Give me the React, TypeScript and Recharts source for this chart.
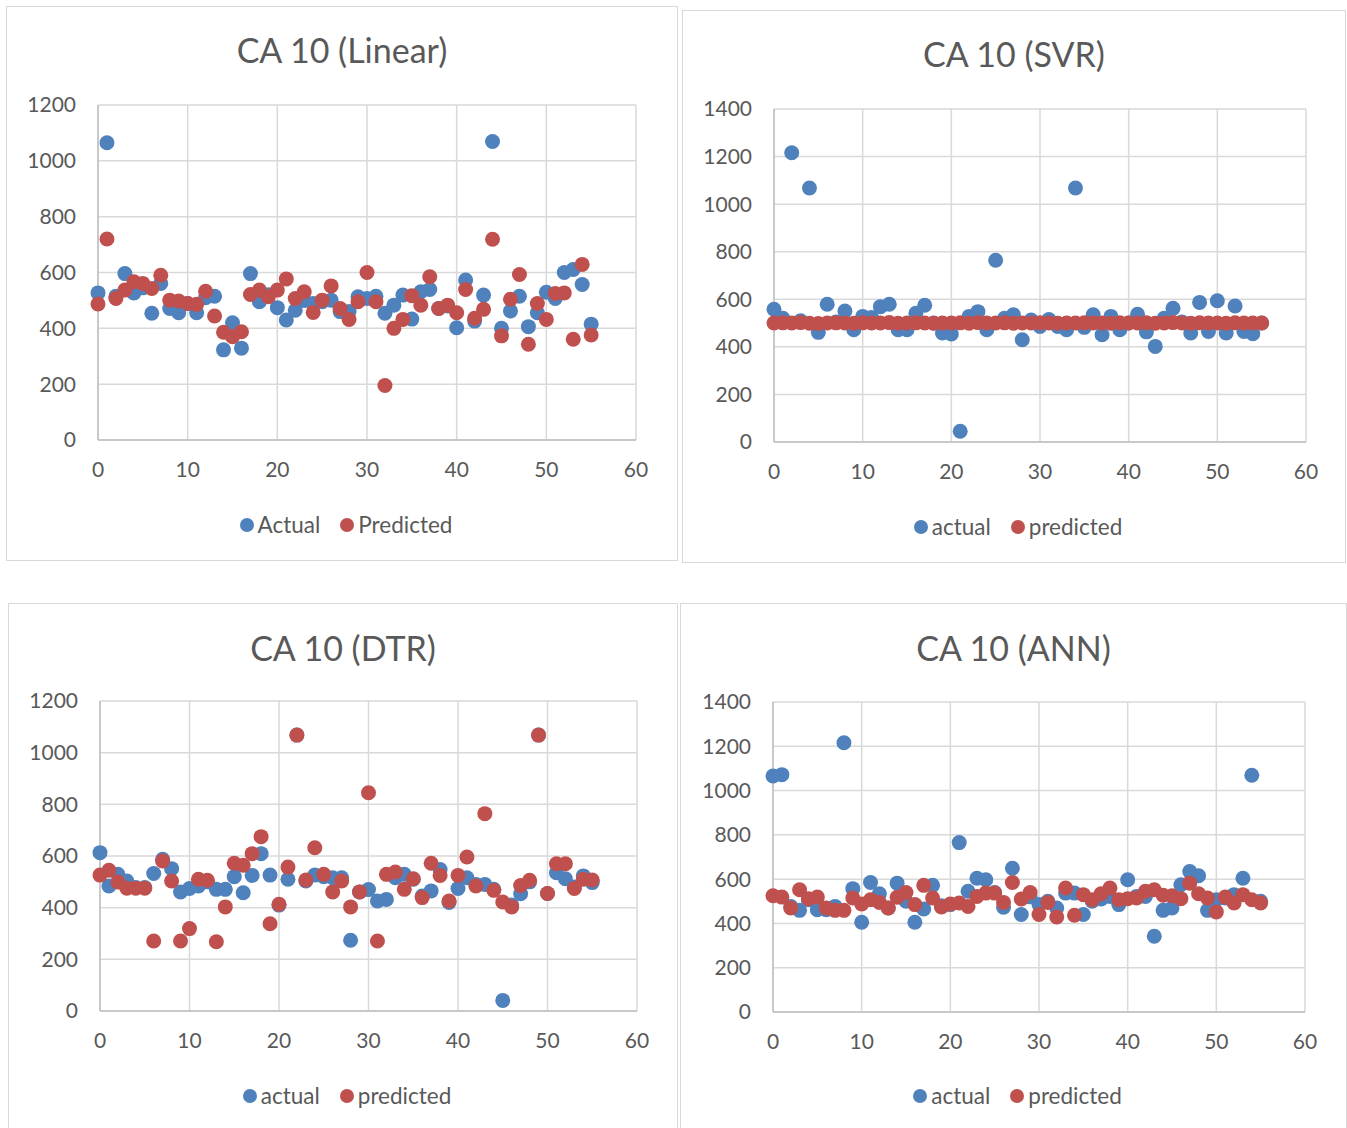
import React from "react";
import {
  ScatterChart,
  Scatter,
  XAxis,
  YAxis,
  CartesianGrid,
  Legend,
} from "recharts";

// Values (x = sample index 0..55)
const linearActual = [
  527, 1065, 515, 596, 527, 545, 454, 561, 471, 456, 489, 456, 510, 515, 323, 420,
  329, 596, 495, 520, 474, 430, 465, 500, 489, 495, 501, 460, 460, 513, 507, 515,
  454, 483, 519, 433, 531, 539, 471, 480, 402, 573, 426, 519, 1069, 400, 462, 515,
  406, 456, 529, 507, 600, 611, 557, 415,
];
const linearPredicted = [
  487, 720, 507, 537, 567, 561, 543, 590, 501, 498, 489, 486, 533, 444, 386, 370,
  388, 521, 537, 513, 537, 577, 507, 531, 457, 501, 552, 471, 432, 495, 600, 495,
  195, 400, 432, 517, 483, 585, 471, 483, 456, 539, 436, 468, 719, 373, 504, 593,
  343, 489, 432, 525, 527, 361, 629, 376,
];

const svrActual = [
  558, 520, 1216, 510, 1068, 461, 579, 505, 551, 472, 528, 523, 569, 579, 472, 472,
  541, 575, 500, 458, 454, 45, 528, 548, 472, 764, 520, 535, 430, 513, 486, 515,
  486, 472, 1068, 482, 535, 451, 528, 472, 500, 537, 463, 402, 520, 562, 505, 458,
  587, 465, 594, 458, 572, 465, 455, 500,
];
const svrPredicted = [
  500, 501, 500, 502, 499, 498, 500, 501, 500, 499, 501, 500, 500, 502, 499, 500,
  501, 500, 499, 500, 500, 501, 499, 502, 500, 500, 501, 499, 500, 500, 501, 500,
  499, 500, 500, 501, 500, 500, 499, 501, 500, 500, 501, 499, 500, 502, 500, 499,
  501, 500, 500, 499, 501, 500, 500, 500,
];

const dtrActual = [
  613, 484, 529, 503, 478, 478, 532, 587, 551, 461, 474, 484, 500, 471, 471, 520,
  458, 525, 609, 526, 410, 510, 1068, 503, 526, 520, 516, 516, 274, 461, 470, 426,
  432, 516, 529, 510, 445, 465, 548, 420, 474, 516, 490, 490, 471, 41, 410, 454,
  500, 1068, 455, 535, 512, 480, 523, 497,
];
const dtrPredicted = [
  526, 545, 499, 475, 475, 475, 271, 581, 503, 271, 319, 510, 506, 268, 403, 572,
  564, 609, 675, 338, 413, 557, 1068, 507, 632, 529, 461, 503, 403, 461, 845, 271,
  529, 538, 471, 512, 439, 572, 525, 426, 525, 596, 484, 764, 467, 422, 403, 486,
  506, 1068, 455, 570, 570, 474, 510, 507,
];

const annActual = [
  1066, 1072, 477, 459, 507, 462, 462, 477, 1216, 557, 405, 585, 534, 470, 582, 500,
  405, 465, 572, 480, 485, 765, 545, 604, 597, 540, 473, 649, 440, 520, 485, 500,
  470, 537, 537, 440, 500, 510, 522, 485, 597, 522, 522, 342, 459, 470, 575, 634,
  615, 459, 507, 515, 530, 604, 1069, 500,
];
const annPredicted = [
  525, 519, 470, 552, 512, 519, 470, 459, 459, 515, 488, 507, 495, 470, 518, 540,
  485, 572, 515, 474, 488, 492, 477, 522, 537, 537, 495, 585, 510, 540, 440, 495,
  429, 560, 437, 530, 507, 534, 560, 507, 512, 515, 545, 552, 527, 525, 512, 582,
  534, 515, 452, 519, 492, 530, 507, 492,
];

const xTicks = [0, 10, 20, 30, 40, 50, 60];
const yTicks1200 = [0, 200, 400, 600, 800, 1000, 1200];
const yTicks1400 = [0, 200, 400, 600, 800, 1000, 1200, 1400];

const BLUE = "#4f81bd";
const RED = "#c0504d";
const TEXT = "#595959";
const FONT = "Lato, 'Open Sans', sans-serif";
const Y_AXIS_W = 70;
const X_AXIS_H = 40;

type Box = { left: number; top: number; width: number; height: number };
type Plot = { left: number; right: number; top: number; bottom: number };

interface PanelProps {
  title: string;
  actual: number[];
  predicted: number[];
  names: [string, string];
  yTicks: number[];
  box: Box;
  plot: Plot;
  titleY: number;
  legendY: number;
}

const toPoints = (values: number[]) => values.map((y, x) => ({ x, y }));

function Panel({ title, actual, predicted, names, yTicks, box, plot, titleY, legendY }: PanelProps) {
  const margin = {
    top: plot.top - box.top,
    right: box.left + box.width - plot.right,
    left: plot.left - box.left - Y_AXIS_W,
    bottom: box.top + box.height - plot.bottom - X_AXIS_H,
  };
  const tickStyle = { fill: TEXT, fontSize: 21, fontFamily: FONT };
  const dot = (color: string) => (p: any) => <circle cx={p.cx} cy={p.cy} r={7.5} fill={color} />;

  return (
    <>
      <div
        style={{
          position: "absolute",
          left: box.left,
          top: box.top,
          width: box.width,
          height: box.height,
        }}
      >
        <ScatterChart width={box.width} height={box.height} margin={margin}>
          <CartesianGrid stroke="#d9d9d9" strokeWidth={1.5} />
          <XAxis
            type="number"
            dataKey="x"
            domain={[0, 60]}
            ticks={xTicks}
            height={X_AXIS_H}
            tickLine={false}
            tickSize={6}
            tickMargin={16}
            axisLine={{ stroke: "#bfbfbf", strokeWidth: 1.5 }}
            tick={tickStyle}
            interval={0}
          />
          <YAxis
            type="number"
            dataKey="y"
            domain={[0, yTicks[yTicks.length - 1]]}
            ticks={yTicks}
            width={Y_AXIS_W}
            tickLine={false}
            tickSize={6}
            tickMargin={16}
            axisLine={{ stroke: "#bfbfbf", strokeWidth: 1.5 }}
            tick={tickStyle}
            interval={0}
          />
          <Legend
            layout="horizontal"
            verticalAlign="middle"
            align="center"
            iconType="circle"
            iconSize={14}
            wrapperStyle={{
              top: legendY - box.top - 14,
              left: 14,
              width: box.width,
              fontSize: 22.5,
              lineHeight: "28px",
            }}
            formatter={(value) => (
              <span
                style={{
                  color: TEXT,
                  fontSize: 22.5,
                  fontFamily: FONT,
                  marginRight: 10,
                  verticalAlign: "middle",
                }}
              >
                {value}
              </span>
            )}
          />
          <Scatter
            name={names[0]}
            data={toPoints(actual)}
            fill={BLUE}
            shape={dot(BLUE)}
            isAnimationActive={false}
          />
          <Scatter
            name={names[1]}
            data={toPoints(predicted)}
            fill={RED}
            shape={dot(RED)}
            isAnimationActive={false}
          />
        </ScatterChart>
      </div>
      <div
        style={{
          position: "absolute",
          left: box.left,
          top: titleY - 20,
          width: box.width,
          height: 40,
          lineHeight: "40px",
          textAlign: "center",
          fontSize: 34,
          fontFamily: FONT,
          color: TEXT,
        }}
      >
        {title}
      </div>
      <div
        style={{
          position: "absolute",
          left: box.left,
          top: box.top,
          width: box.width,
          height: box.height,
          border: "1.5px solid #d9d9d9",
          boxSizing: "border-box",
          pointerEvents: "none",
        }}
      />
    </>
  );
}

export default function App() {
  return (
    <div
      style={{
        position: "absolute",
        left: 0,
        top: 0,
        width: 1347,
        height: 1128,
        background: "#fff",
        overflow: "hidden",
        fontFamily: FONT,
      }}
    >
      <Panel
        title="CA 10 (Linear)"
        actual={linearActual}
        predicted={linearPredicted}
        names={["Actual", "Predicted"]}
        yTicks={yTicks1200}
        box={{ left: 6, top: 6, width: 672, height: 555 }}
        plot={{ left: 98, right: 636, top: 105, bottom: 440 }}
        titleY={50}
        legendY={523}
      />
      <Panel
        title="CA 10 (SVR)"
        actual={svrActual}
        predicted={svrPredicted}
        names={["actual", "predicted"]}
        yTicks={yTicks1400}
        box={{ left: 682, top: 10, width: 664, height: 553 }}
        plot={{ left: 774, right: 1306, top: 109, bottom: 442 }}
        titleY={54}
        legendY={525}
      />
      <Panel
        title="CA 10 (DTR)"
        actual={dtrActual}
        predicted={dtrPredicted}
        names={["actual", "predicted"]}
        yTicks={yTicks1200}
        box={{ left: 8, top: 603, width: 670, height: 530 }}
        plot={{ left: 100, right: 637, top: 701, bottom: 1011 }}
        titleY={648}
        legendY={1094}
      />
      <Panel
        title="CA 10 (ANN)"
        actual={annActual}
        predicted={annPredicted}
        names={["actual", "predicted"]}
        yTicks={yTicks1400}
        box={{ left: 680, top: 603, width: 667, height: 530 }}
        plot={{ left: 773, right: 1305, top: 702, bottom: 1012 }}
        titleY={648}
        legendY={1094}
      />
    </div>
  );
}
